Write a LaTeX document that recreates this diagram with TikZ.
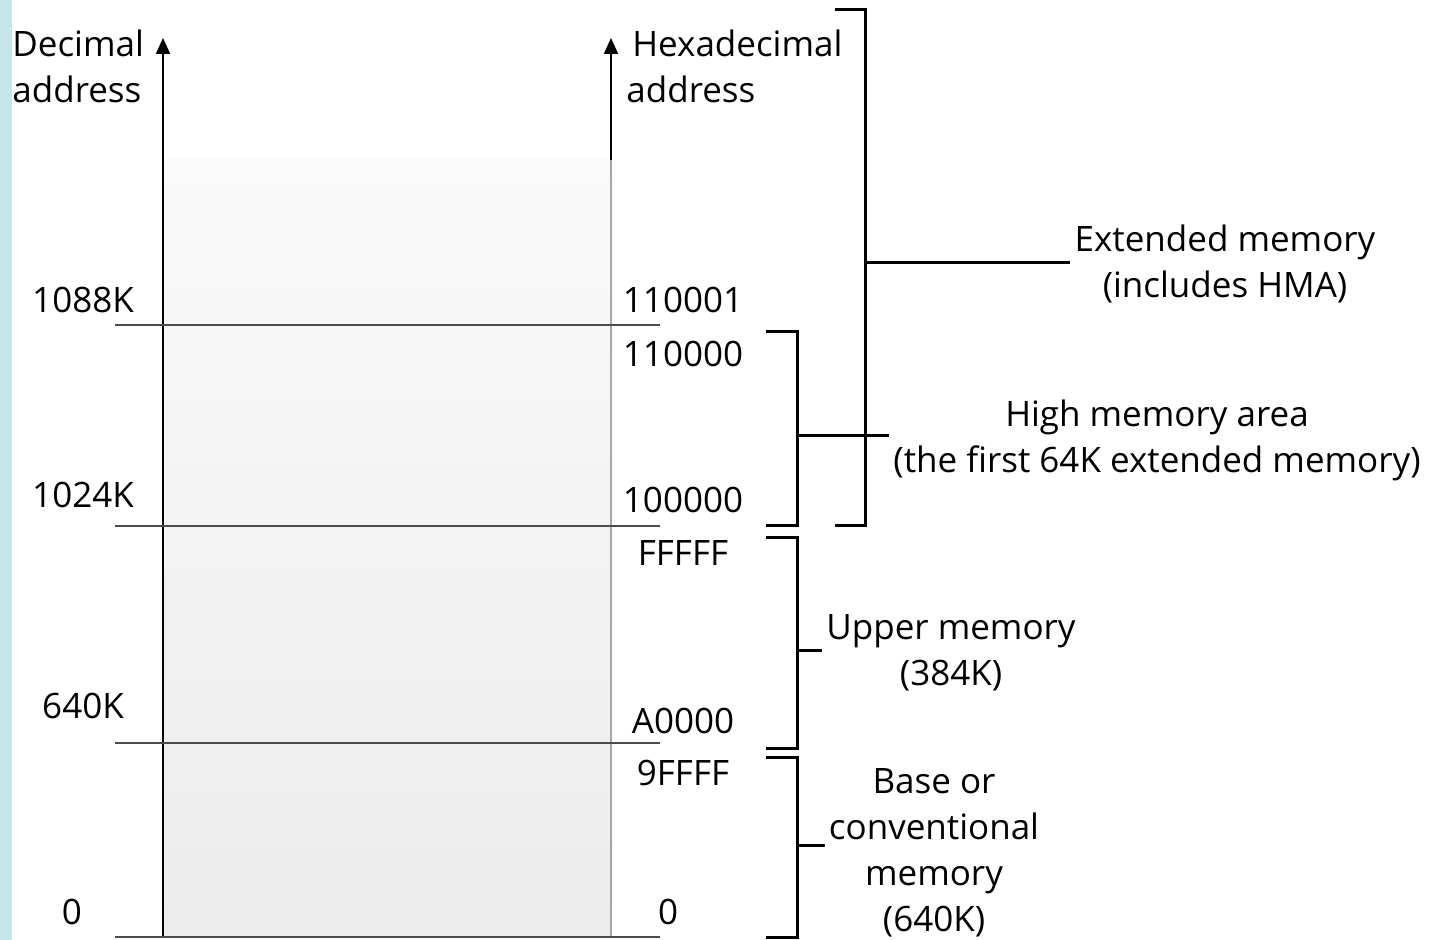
\documentclass[tikz,border=0pt]{standalone}
\usepackage{fontspec}
\setmainfont{Open Sans}
\usetikzlibrary{arrows.meta}
\definecolor{stripcyan}{HTML}{C4E6EA}
\tikzset{
  lbl/.style={font=\fontsize{17.5}{23}\selectfont, inner sep=2pt},
  bndline/.style={draw=black!70, line width=1pt},
  brack/.style={line width=1.5pt},
  axisline/.style={line width=1pt, -{Triangle[width=7pt,length=8pt]}}
}
\begin{document}
\begin{tikzpicture}[x=0.5pt,y=-0.5pt]
  \useasboundingbox (0,0) rectangle (1429,940);
  \fill[stripcyan] (0,0) rectangle (12,940);
  % memory block
  \shade[top color=gray!4, bottom color=gray!15] (164,160) rectangle (611,937);
  % axes
  \coordinate (decbot) at (163,937);
  \coordinate (dectop) at (163,38);
  \coordinate (hexbot) at (611,937);
  \coordinate (hexmid) at (611,160);
  \coordinate (hextop) at (611,38);
  \draw[axisline] (decbot) -- (dectop);
  \draw[gray!70, line width=1pt] (hexbot) -- (hexmid);
  \draw[axisline] (hexmid) -- (hextop);
  \node[lbl, align=left, anchor=north west] (declbl) at (8,26) {Decimal\\address};
  \node[lbl, align=left, anchor=north west] (hexlbl) at (622,26) {\hspace*{3pt}Hexadecimal\\address};
  % boundaries
  \foreach \y in {325,526,743,937}
    \draw[bndline] (115,\y) -- (660,\y);
  % decimal addresses
  \foreach \y/\t in {300/1088K,495/1024K,706/640K}
    \node[lbl] (dec\t) at (83,\y) {\t};
  \node[lbl] (deczero) at (72,912) {0};
  % hex addresses
  \foreach \y/\t in {300/110001,354/110000,500/100000,553/FFFFF,721/A0000,773/9FFFF}
    \node[lbl] (hex\t) at (683,\y) {\t};
  \node[lbl] (hexzero) at (668,912) {0};
  % brackets
  \draw[brack] (835,10) -- (865,10) -- (865,526) -- (835,526);
  \draw[brack] (766,332) -- (797,332) -- (797,526) -- (766,526);
  \draw[brack] (766,538) -- (797,538) -- (797,748) -- (766,748);
  \draw[brack] (766,757) -- (797,757) -- (797,937) -- (766,937);
  \coordinate (extbr) at (865,263);
  \coordinate (hmabr) at (797,436);
  \coordinate (uppbr) at (797,650);
  \coordinate (basebr) at (797,845);
  % region labels
  \node[lbl, align=center] (extlbl) at (1225,264) {Extended memory\\(includes HMA)};
  \node[lbl, align=center] (hmalbl) at (1157,440) {High memory area\\(the first 64K extended memory)};
  \node[lbl, align=center] (upplbl) at (951,653) {Upper memory\\(384K)};
  \node[lbl, align=center] (baselbl) at (934,853) {Base or\\conventional\\memory\\(640K)};
  \draw[brack] (extbr) -- (extbr -| extlbl.west);
  \draw[brack] (hmabr) -- (hmabr -| hmalbl.west);
  \draw[brack] (uppbr) -- (uppbr -| upplbl.west);
  \draw[brack] (basebr) -- (basebr -| baselbl.west);
\end{tikzpicture}
\end{document}
